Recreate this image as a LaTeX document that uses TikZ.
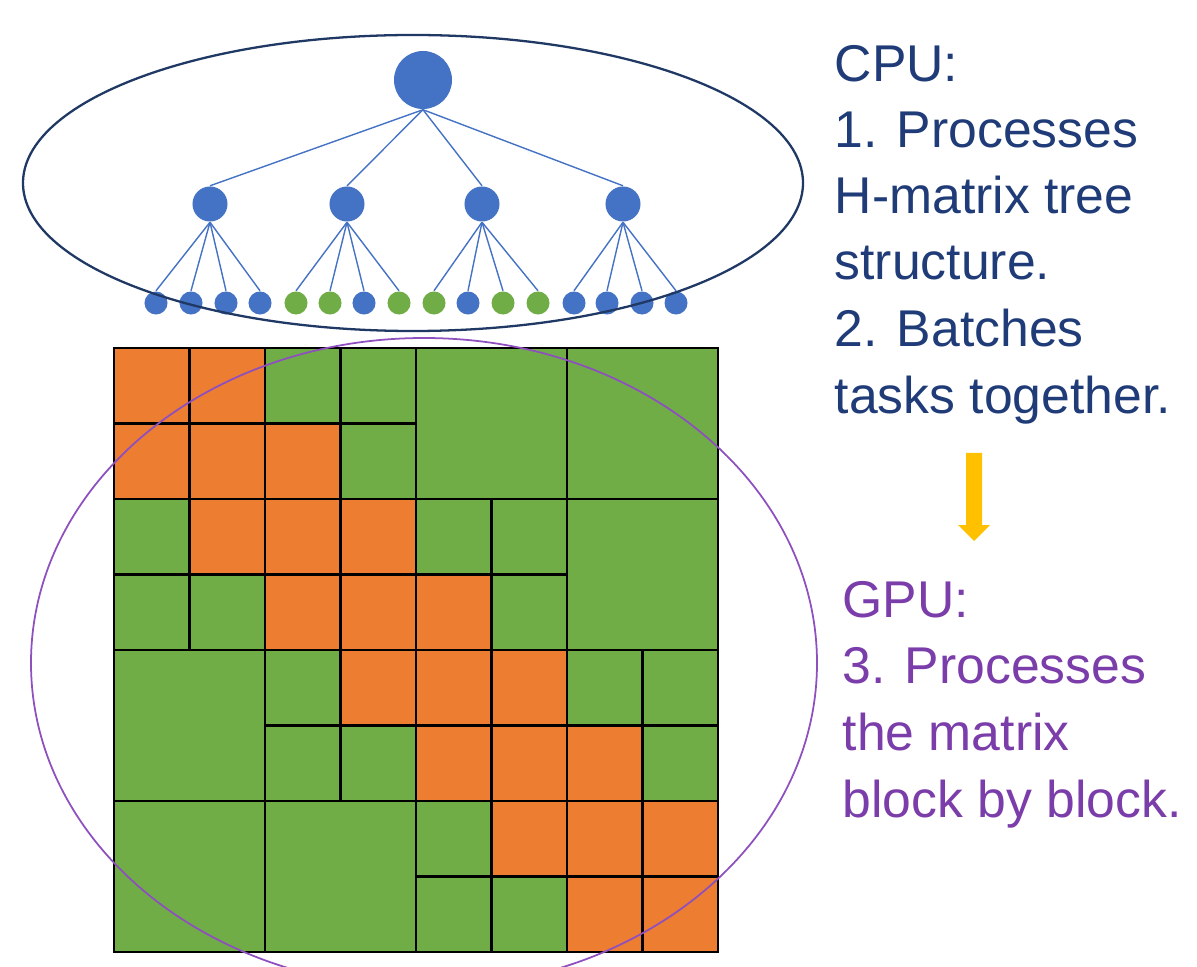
\documentclass[tikz,border=0pt]{standalone}
\usepackage{fontspec}
\setmainfont{Liberation Sans}
\definecolor{nodeblue}{HTML}{4472C4}
\definecolor{leafgreen}{HTML}{70AD47}
\definecolor{cellorange}{HTML}{ED7D31}
\definecolor{cellgreen}{HTML}{70AD47}
\definecolor{navyline}{HTML}{1F3864}
\definecolor{cputext}{HTML}{203C78}
\definecolor{gputext}{HTML}{7A3DAA}
\definecolor{purpleline}{HTML}{8E4FBF}
\definecolor{arrowgold}{HTML}{FFC000}
\tikzset{
  bnode/.style={circle,fill=nodeblue,inner sep=0pt},
  gnode/.style={circle,fill=leafgreen,inner sep=0pt},
  treeedge/.style={draw=nodeblue,line width=0.4pt},
  cell/.style={draw=black,line width=0.65pt},
  cputxt/.style={anchor=base west,inner sep=0pt,text=cputext,font=\fontsize{14.7}{18}\selectfont},
  gputxt/.style={anchor=base west,inner sep=0pt,text=gputext,font=\fontsize{14.7}{18}\selectfont},
}
\def\celllist{
 0/0/1/1/cellorange,1/0/1/1/cellorange,2/0/1/1/cellgreen,3/0/1/1/cellgreen,4/0/2/2/cellgreen,6/0/2/2/cellgreen,
 0/1/1/1/cellorange,1/1/1/1/cellorange,2/1/1/1/cellorange,3/1/1/1/cellgreen,
 0/2/1/1/cellgreen,1/2/1/1/cellorange,2/2/1/1/cellorange,3/2/1/1/cellorange,4/2/1/1/cellgreen,5/2/1/1/cellgreen,6/2/2/2/cellgreen,
 0/3/1/1/cellgreen,1/3/1/1/cellgreen,2/3/1/1/cellorange,3/3/1/1/cellorange,4/3/1/1/cellorange,5/3/1/1/cellgreen,
 0/4/2/2/cellgreen,2/4/1/1/cellgreen,3/4/1/1/cellorange,4/4/1/1/cellorange,5/4/1/1/cellorange,6/4/1/1/cellgreen,7/4/1/1/cellgreen,
 2/5/1/1/cellgreen,3/5/1/1/cellgreen,4/5/1/1/cellorange,5/5/1/1/cellorange,6/5/1/1/cellorange,7/5/1/1/cellgreen,
 0/6/2/2/cellgreen,2/6/2/2/cellgreen,4/6/1/1/cellgreen,5/6/1/1/cellorange,6/6/1/1/cellorange,7/6/1/1/cellorange,
 4/7/1/1/cellgreen,5/7/1/1/cellgreen,6/7/1/1/cellorange,7/7/1/1/cellorange}
\begin{document}
\begin{tikzpicture}[x=0.01cm,y=-0.01cm]
\useasboundingbox (0,0) rectangle (1197,967);
% matrix cells: fills first, then borders
\foreach \c/\r/\w/\h/\f in \celllist {
  \fill[\f] ({114+75.5*\c},{348+75.5*\r}) rectangle ({114+75.5*(\c+\w)},{348+75.5*(\r+\h)});
}
\foreach \c/\r/\w/\h/\f in \celllist {
  \draw[cell] ({114+75.5*\c},{348+75.5*\r}) rectangle ({114+75.5*(\c+\w)},{348+75.5*(\r+\h)});
}
% tree nodes
\node[bnode,minimum size=0.58cm] (root) at (423,80) {};
\foreach \i/\x in {1/210,2/347,3/482,4/623}{
  \node[bnode,minimum size=0.35cm] (m\i) at (\x,204) {};
  \draw[treeedge] (root.south) -- (m\i.north);
}
\foreach \j/\x/\s/\p in {1/156/bnode/1,2/191/bnode/1,3/226/bnode/1,4/260/bnode/1,
  5/296/gnode/2,6/330/gnode/2,7/364/bnode/2,8/399/gnode/2,
  9/434/gnode/3,10/468/bnode/3,11/503/gnode/3,12/538/gnode/3,
  13/574/bnode/4,14/607/bnode/4,15/642/bnode/4,16/676/bnode/4}{
  \node[\s,minimum size=0.23cm] (l\j) at (\x,303) {};
  \draw[treeedge] (m\p.south) -- (l\j.north);
}
% ellipses
\draw[navyline,line width=0.65pt] (413,183) ellipse [x radius=390,y radius=148];
\draw[purpleline,line width=0.5pt] (424,663) ellipse [x radius=393,y radius=325];
% arrow
\fill[arrowgold] (966,453) -- (982,453) -- (982,525) -- (990,525) -- (974,541) -- (958,525) -- (966,525) -- cycle;
% text
\node[cputxt] (c1) at (834,82) {CPU:};
\node[cputxt] (c2) at (834,148) {1. Processes};
\node[cputxt] (c3) at (834,214) {H-matrix tree};
\node[cputxt] (c4) at (834,280) {structure.};
\node[cputxt] (c5) at (834,347) {2. Batches};
\node[cputxt] (c6) at (834,413) {tasks together.};
\node[gputxt] (g1) at (842,617) {GPU:};
\node[gputxt] (g2) at (842,683) {3. Processes};
\node[gputxt] (g3) at (842,750) {the matrix};
\node[gputxt] (g4) at (842,817) {block by block.};
\end{tikzpicture}
\end{document}
